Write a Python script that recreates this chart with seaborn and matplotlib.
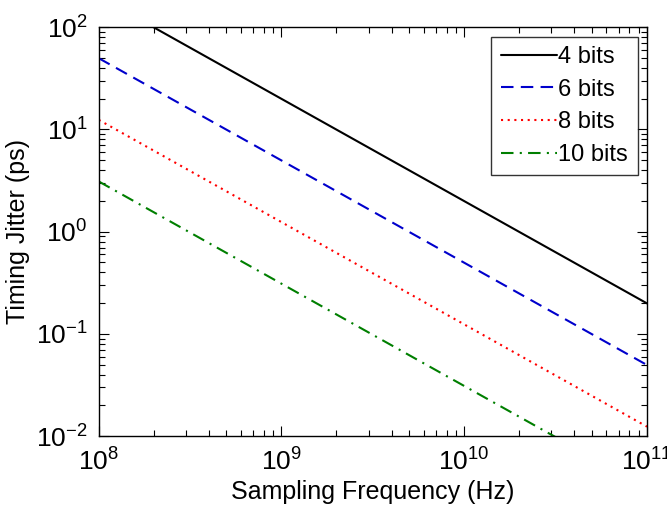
import matplotlib
matplotlib.use("Agg")
import matplotlib.pyplot as plt
import seaborn as sns
import pandas as pd
from matplotlib.ticker import LogLocator, NullFormatter

sns.set_theme(style="white")
plt.rcParams['font.family'] = ['Liberation Sans', 'DejaVu Sans']
plt.rcParams['mathtext.fontset'] = 'custom'
plt.rcParams['mathtext.rm'] = 'Liberation Sans'
plt.rcParams['mathtext.it'] = 'Liberation Sans'
plt.rcParams['text.color'] = 'black'
plt.rcParams['axes.labelcolor'] = 'black'

# Data (straight lines in log-log; endpoints)
freq = [1e8, 1e11]
jitter_4 = [199.0, 0.199]
jitter_6 = [49.7, 0.0497]
jitter_8 = [12.4, 0.0124]
jitter_10 = [3.1, 0.0031]
labels = ["4 bits", "6 bits", "8 bits", "10 bits"]

series = [jitter_4, jitter_6, jitter_8, jitter_10]
colors = ["black", "#0000cc", "#ff0000", "#007f00"]
styles = ["-", (0, (6, 3.5)), (0, (1, 2.2)), (0, (6, 3, 1, 3))]

fig = plt.figure(figsize=(6.67, 5.12), dpi=100)
ax = fig.add_axes([0.148, 0.148, 0.822, 0.799])

for vals, lab, c, ls in zip(series, labels, colors, styles):
    df = pd.DataFrame({"f": freq, "j": vals})
    sns.lineplot(data=df, x="f", y="j", ax=ax, color=c, linestyle=ls,
                 linewidth=1.5, label=lab, estimator=None, sort=False)

ax.set_xscale("log")
ax.set_yscale("log")
ax.set_xlim(1e8, 1e11)
ax.set_ylim(1e-2, 1e2)

ax.set_xlabel("Sampling Frequency (Hz)", fontsize=18, labelpad=3, color="black")
ax.set_ylabel("Timing Jitter (ps)", fontsize=18, labelpad=4, color="black")

ax.xaxis.set_major_locator(LogLocator(base=10, numticks=10))
ax.yaxis.set_major_locator(LogLocator(base=10, numticks=10))
ax.xaxis.set_minor_locator(LogLocator(base=10, subs=range(2, 10), numticks=20))
ax.yaxis.set_minor_locator(LogLocator(base=10, subs=range(2, 10), numticks=20))
ax.xaxis.set_minor_formatter(NullFormatter())
ax.yaxis.set_minor_formatter(NullFormatter())

ax.tick_params(which="both", direction="in", top=True, right=True,
               bottom=True, left=True, colors="black")
ax.tick_params(which="major", length=7, width=0.8, labelsize=19)
ax.tick_params(axis="x", which="major", pad=9)
ax.tick_params(axis="y", which="major", pad=8)
ax.tick_params(which="minor", length=4, width=0.8)

for sp in ax.spines.values():
    sp.set_color("black")
    sp.set_linewidth(1.0)

leg = ax.legend(loc="upper right", fontsize=17, handlelength=2.4,
                handletextpad=0.05, borderpad=0.4, labelspacing=0.45,
                frameon=True, fancybox=False, borderaxespad=0.4)
leg.get_frame().set_edgecolor("black")
leg.get_frame().set_linewidth(1.0)
for t in leg.get_texts():
    t.set_color("black")

fig.savefig("out.png", dpi=100)
